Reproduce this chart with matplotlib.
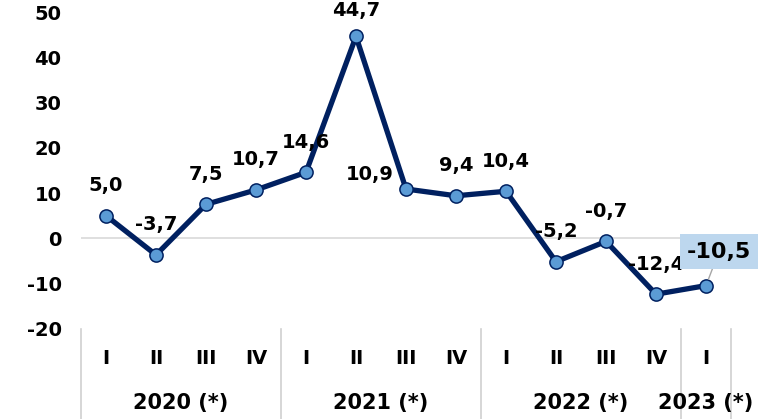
import matplotlib
matplotlib.use("Agg")
import matplotlib.pyplot as plt
from matplotlib.transforms import blended_transform_factory
from matplotlib.lines import Line2D

quarters = ["I", "II", "III", "IV", "I", "II", "III", "IV", "I", "II", "III", "IV", "I"]
values = [5.0, -3.7, 7.5, 10.7, 14.6, 44.7, 10.9, 9.4, 10.4, -5.2, -0.7, -12.4, -10.5]
years = ["2020 (*)", "2021 (*)", "2022 (*)", "2023 (*)"]
year_counts = [4, 4, 4, 1]
value_labels = ["5,0", "-3,7", "7,5", "10,7", "14,6", "44,7", "10,9", "9,4", "10,4", "-5,2", "-0,7", "-12,4", "-10,5"]
yticks = [-20, -10, 0, 10, 20, 30, 40, 50]

plt.rcParams['font.family'] = ['DejaVu Sans']
W, H = 782, 419
fig = plt.figure(figsize=(W / 100, H / 100), dpi=100)
ax = fig.add_axes([81 / W, (H - 328.5) / H, 650 / W, 316 / H])

x = list(range(len(values)))
NAVY = "#002060"
ax.axhline(0, color="#d9d9d9", lw=1.2, zorder=1)
ax.plot(x, values, color=NAVY, lw=3.8, zorder=3, solid_joinstyle="round")
ax.plot(x, values, ls="none", marker="o", ms=9.5, mfc="#5b9bd5", mec=NAVY, mew=1.1, zorder=4)

ax.set_xlim(-0.5, len(values) - 0.5)
ax.set_ylim(-20, 50)
ax.set_yticks(yticks)
ax.set_yticklabels([str(t) for t in yticks], fontsize=14, fontweight="bold")
ax.tick_params(axis="y", length=0, pad=14)
ax.set_xticks([])
for s in ax.spines.values():
    s.set_visible(False)

# data labels
offsets = {5: (0, 26), 6: (-36, 15)}
for i, (v, lab) in enumerate(zip(values, value_labels)):
    if i == len(values) - 1:
        continue
    dx, dy = offsets.get(i, (0, 30))
    ax.annotate(lab, xy=(i, v), xytext=(dx, dy), textcoords="offset pixels",
                ha="center", va="center", fontsize=14, fontweight="bold",
                color="black", zorder=5, annotation_clip=False)

# last label boxed with leader line
i = len(values) - 1
ax.annotate(value_labels[i], xy=(i, values[i]), xytext=(13, 34), textcoords="offset pixels",
            ha="center", va="center", fontsize=16, fontweight="bold", color="black",
            bbox=dict(boxstyle="square,pad=0.33", fc="#bdd7ee", ec="none"),
            arrowprops=dict(arrowstyle="-", color="#a6a6a6", lw=1, shrinkA=0, shrinkB=5),
            zorder=6, annotation_clip=False)

# category axis
trans = blended_transform_factory(ax.transData, ax.transAxes)
for i, q in enumerate(quarters):
    ax.annotate(q, xy=(i, 0), xycoords=trans, xytext=(0, -30), textcoords="offset pixels",
                ha="center", va="center", fontsize=14, fontweight="bold", annotation_clip=False)

bottom = -(H - 328.5) / 316 - 0.01
start = -0.5
seps = [start]
for yl, cnt in zip(years, year_counts):
    center = start + cnt / 2
    ax.annotate(yl, xy=(center, 0), xycoords=trans, xytext=(0, -74), textcoords="offset pixels",
                ha="center", va="center", fontsize=15, fontweight="bold", annotation_clip=False)
    start += cnt
    seps.append(start)
for sx in seps:
    ax.add_line(Line2D([sx, sx], [0, bottom], transform=trans, color="#d0d0d0", lw=1.2, clip_on=False))

fig.savefig("out.png", dpi=100)
